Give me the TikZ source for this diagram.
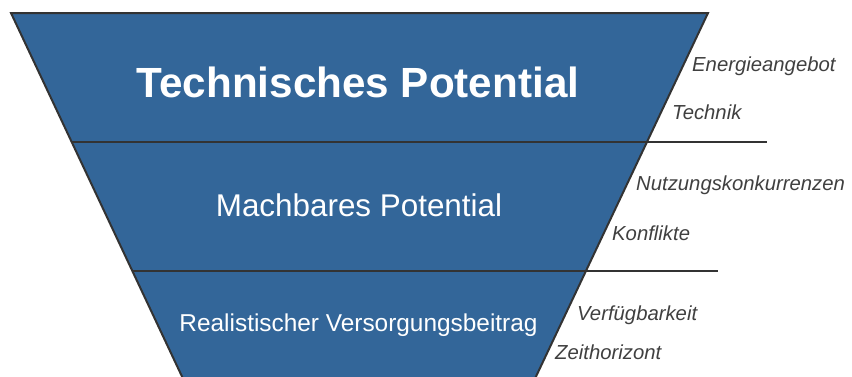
\documentclass[tikz,border=0pt]{standalone}
\usepackage{fontspec}
\setmainfont{Liberation Sans}
\definecolor{funnelblue}{RGB}{51,102,153}
\definecolor{darkline}{RGB}{51,51,51}
\definecolor{sidegray}{RGB}{64,64,64}
\begin{document}
\begin{tikzpicture} [x = 1pt, y = -1pt,
    rim/.style = {draw = darkline, line width = 2pt},
    level/.style = {inner sep = 0, anchor = base, text = white},
    factor/.style = {inner sep = 0, anchor = base west, text = sidegray, font = \fontsize{20.3}{24}\selectfont\itshape}]
    \useasboundingbox (0,0) rectangle (852,376);

    % funnel corners
    \coordinate (tl) at (11,13);
    \coordinate (tr) at (708,13);
    \coordinate (bl) at (182.7,378);
    \coordinate (br) at (535.3,378);

    \fill [funnelblue] (tl) -- (tr) -- (br) -- (bl) -- cycle;

    % borders between the levels
    \coordinate (a1) at (71.8,142);
    \coordinate (a2) at (767,142);
    \coordinate (b1) at (132.4,270.5);
    \coordinate (b2) at (718,270.5);
    \draw [rim] (a1) -- (a2);
    \draw [rim] (b1) -- (b2);

    \draw [rim] (bl) -- (tl) -- (tr) -- (br);

    \node [level, font = \fontsize{42.2}{48}\selectfont\bfseries] (tech) at (358,97) {Technisches Potential};
    \node [level, font = \fontsize{31.4}{36}\selectfont] (mach) at (359,216.7) {Machbares Potential};
    \node [level, font = \fontsize{24.4}{29}\selectfont] (real) at (358.5,331.7) {Realistischer Versorgungsbeitrag};

    \node [factor] (energie) at (692,71.7) {Energieangebot};
    \node [factor] (technik) at (672,119.3) {Technik};
    \node [factor] (nutzung) at (636,190) {Nutzungskonkurrenzen};
    \node [factor] (konflikt) at (612,240) {Konflikte};
    \node [factor] (verfueg) at (577,320) {Verfügbarkeit};
    \node [factor] (zeit) at (555,359.3) {Zeithorizont};
\end{tikzpicture}
\end{document}
